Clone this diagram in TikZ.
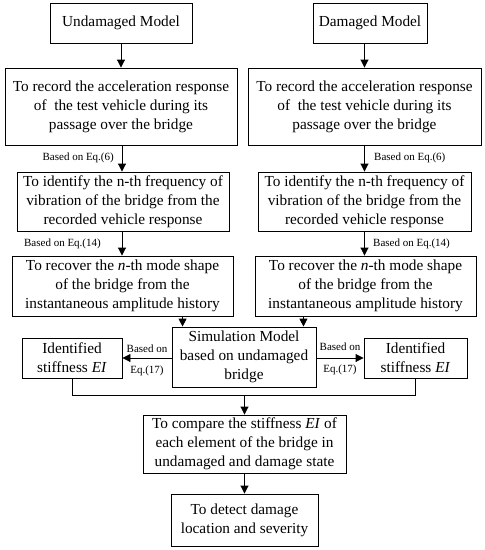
\documentclass[tikz,border=0pt]{standalone}
\usepackage{fontspec}
\setmainfont{Liberation Serif}
\usetikzlibrary{arrows.meta,calc}
\begin{document}
\begin{tikzpicture}[x=1pt,y=-1pt,
  box/.style={draw,line width=0.9pt,align=center,inner sep=0pt,font=\fontsize{15.3}{19}\selectfont},
  arr/.style={line width=0.9pt,-{Triangle[length=8pt,width=8pt]}},
  lab/.style={inner sep=0pt,font=\fontsize{11}{13}\selectfont},
  ln/.style={line width=0.9pt}]
\useasboundingbox (0,0) rectangle (485,550);
\node[box,minimum width=142pt,minimum height=40pt] (UM) at (121,23) {Undamaged Model};
\node[box,minimum width=114pt,minimum height=40pt] (DM) at (370,23) {Damaged Model};
\node[box,minimum width=232pt,minimum height=77pt] (RL) at (121,106.5) {To record the acceleration response\\of \ the test vehicle during its\\passage over the bridge};
\node[box,minimum width=233pt,minimum height=77pt] (RR) at (364.5,106.5) {To record the acceleration response\\of \ the test vehicle during its\\passage over the bridge};
\node[box,minimum width=212pt,minimum height=59pt] (IL) at (123,201.5) {To identify the n-th frequency of\\vibration of the bridge from the\\recorded vehicle response};
\node[box,minimum width=213pt,minimum height=59pt] (IR) at (364.5,201.5) {To identify the n-th frequency of\\vibration of the bridge from the\\recorded vehicle response};
\node[box,minimum width=221pt,minimum height=60pt] (ReL) at (122.5,286) {To recover the \textit{n}-th mode shape\\of the bridge from the\\instantaneous amplitude history};
\node[box,minimum width=221pt,minimum height=60pt] (ReR) at (365.5,286) {To recover the \textit{n}-th mode shape\\of the bridge from the\\instantaneous amplitude history};
\node[box,minimum width=144pt,minimum height=60pt] (Sim) at (244,357) {Simulation Model\\based on undamaged\\bridge};
\node[box,minimum width=100pt,minimum height=40pt] (IdL) at (72,358) {Identified\\stiffness \textit{EI}};
\node[box,minimum width=103pt,minimum height=40pt] (IdR) at (415.5,358) {Identified\\stiffness \textit{EI}};
\node[box,minimum width=203pt,minimum height=58pt] (Cmp) at (244.5,444) {To compare the stiffness \textit{EI} of\\each element of the bridge in\\undamaged and damage state};
\node[box,minimum width=147pt,minimum height=52pt] (Det) at (244.5,520) {To detect damage\\location and severity};
% labels
\node[lab,anchor=east] (L6) at (114,158) {Based on Eq.(6)};
\node[lab,anchor=west] (R6) at (374,158) {Based on Eq.(6)};
\node[lab,anchor=east] (L14) at (101,244) {Based on Eq.(14)};
\node[lab,anchor=west] (R14) at (373,244) {Based on Eq.(14)};
\node[lab] (LB) at (147,349) {Based on};
\node[lab] (LE) at (147,371) {Eq.(17)};
\node[lab] (RB) at (340,347) {Based on};
\node[lab] (RE) at (340,370) {Eq.(17)};
% arrows
\draw[arr] (UM.south -| RL.north) -- (RL.north);
\draw[arr] (DM.south -| RR.north) -- (RR.north);
\draw[arr] (RL.south -| 122,0) -- (IL.north -| 122,0);
\draw[arr] (RR.south) -- (IR.north -| RR.south);
\draw[arr] (IL.south -| 122,0) -- (ReL.north -| 122,0);
\draw[arr] (IR.south) -- (ReR.north -| IR.south);
\draw[arr] ([xshift=11pt]Sim.north west |- ReL.south) -- ([xshift=11pt]Sim.north west);
\draw[arr] ([xshift=-13pt]Sim.north east |- ReR.south) -- ([xshift=-13pt]Sim.north east);
\draw[arr] (Sim.west |- IdL.east) -- (IdL.east);
\draw[arr] (Sim.east |- IdR.west) -- (IdR.west);
\coordinate (J) at (Cmp.north |- 0,395);
\draw[ln] (IdL.south) |- (J);
\draw[ln] (IdR.south) |- (J);
\draw[arr] (J) -- (Cmp.north);
\draw[arr] (Cmp.south) -- (Det.north);
\end{tikzpicture}
\end{document}
